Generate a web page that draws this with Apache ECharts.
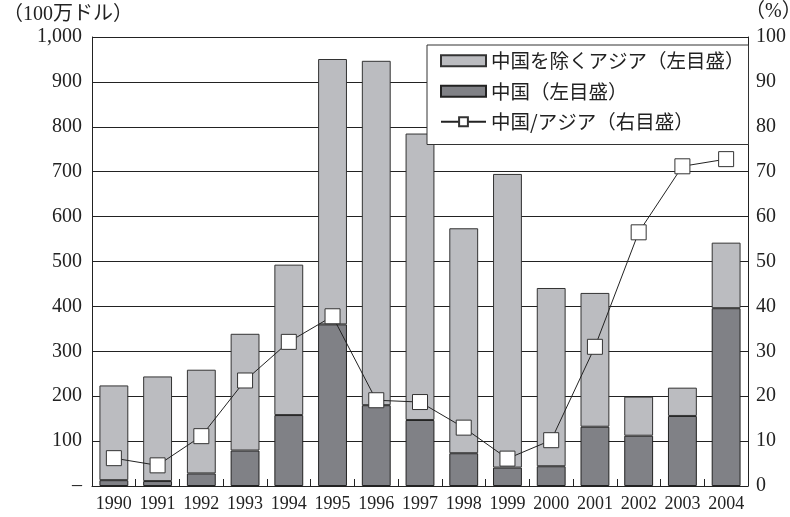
<!DOCTYPE html>
<html>
<head>
<meta charset="utf-8">
<script src="https://cdn.jsdelivr.net/npm/echarts@6/dist/echarts.min.js"></script>
<style>
  html, body { margin: 0; padding: 0; background: #fff; }
  #chart { width: 790px; height: 517px; }
</style>
</head>
<body>
<div id="chart"></div>
<script>
// データ
const years = ['1990', '1991', '1992', '1993', '1994', '1995', '1996', '1997', '1998', '1999', '2000', '2001', '2002', '2003', '2004'];
const china = [13, 11, 28, 79, 158, 360, 180, 147, 73, 41, 44, 132, 112, 156, 396];
const asiaExChina = [211, 233, 231, 260, 335, 591, 767, 638, 501, 654, 397, 298, 87, 63, 146];
const chinaShare = [6.2, 4.6, 11.1, 23.5, 32.1, 37.8, 19.1, 18.7, 13.0, 6.1, 10.2, 31.0, 56.5, 71.2, 72.8];
const leftTicks = [0, 1000, 100];
const rightTicks = [0, 100, 10];

const serif = 'Liberation Serif, Noto Sans CJK JP, serif';
const jp = 'Noto Sans CJK JP, sans-serif';

const chart = echarts.init(document.getElementById('chart'));

const option = {
    animation: false,
    backgroundColor: '#fff',
    grid: { left: 92, right: 42, top: 37, bottom: 31 },
    legend: {
        orient: 'vertical',
        left: 427,
        top: 45,
        padding: [6, 4, 13, 13],
        itemGap: 11,
        itemWidth: 45,
        itemHeight: 11,
        backgroundColor: '#fff',
        borderColor: '#333',
        borderWidth: 1,
        borderRadius: 0,
        textStyle: { fontFamily: jp, fontSize: 19.5, color: '#222' },
        data: [
            { name: '中国を除くアジア（左目盛）', icon: 'rect' },
            { name: '中国（左目盛）', icon: 'rect' },
            '中国/アジア（右目盛）'
        ]
    },
    graphic: [
        { type: 'text', left: 3, top: 5, style: { text: '（100万ドル）', font: '20px ' + serif, fill: '#222' } },
        { type: 'text', left: 745, top: 2, style: { text: '（%）', font: '20px ' + serif, fill: '#222' } }
    ],
    xAxis: {
        type: 'category',
        data: years,
        axisLine: { lineStyle: { color: '#222', width: 1 } },
        axisTick: { show: true, inside: true, length: 7, lineStyle: { color: '#222' } },
        axisLabel: { interval: 0, fontFamily: serif, fontSize: 18, color: '#222', margin: 9 }
    },
    yAxis: [
        {
            type: 'value',
            min: leftTicks[0], max: leftTicks[1], interval: leftTicks[2],
            axisLine: { show: true, lineStyle: { color: '#222' } },
            axisTick: { show: false },
            splitLine: { lineStyle: { color: '#222', width: 1 } },
            axisLabel: {
                fontFamily: serif, fontSize: 20, color: '#222', margin: 10,
                formatter: v => v === 0 ? '–' : v.toLocaleString('en-US')
            }
        },
        {
            type: 'value',
            min: rightTicks[0], max: rightTicks[1], interval: rightTicks[2],
            axisLine: { show: true, lineStyle: { color: '#222' } },
            axisTick: { show: false },
            splitLine: { show: false },
            axisLabel: { fontFamily: serif, fontSize: 20, color: '#222', margin: 8 }
        }
    ],
    series: [
        {
            name: '中国（左目盛）',
            type: 'bar',
            stack: 'total',
            barWidth: '66%',
            data: china,
            itemStyle: { color: '#808186', borderColor: '#222', borderWidth: 1 }
        },
        {
            name: '中国を除くアジア（左目盛）',
            type: 'bar',
            stack: 'total',
            barWidth: '66%',
            data: asiaExChina,
            itemStyle: { color: '#bbbcc0', borderColor: '#333', borderWidth: 1 }
        },
        {
            name: '中国/アジア（右目盛）',
            type: 'line',
            yAxisIndex: 1,
            data: chinaShare,
            symbol: 'rect',
            symbolSize: 15,
            z: 5,
            lineStyle: { color: '#222', width: 1 },
            itemStyle: { color: '#fff', borderColor: '#333', borderWidth: 1 }
        }
    ]
};

chart.setOption(option);
</script>
</body>
</html>
